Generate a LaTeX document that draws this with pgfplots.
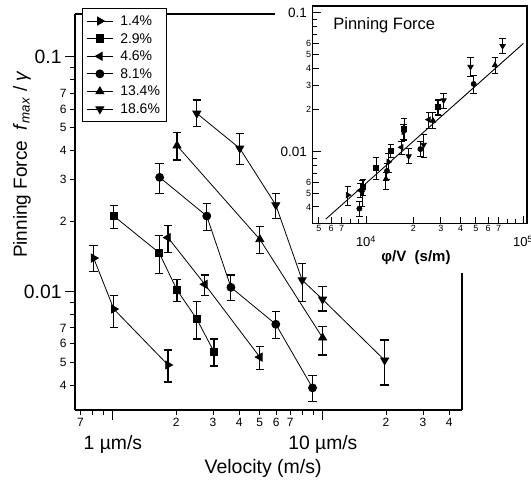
\documentclass[border=0pt]{standalone}
\usepackage{pgfplots}
\pgfplotsset{compat=1.18}
\usepackage{fontspec}
\setmainfont{Liberation Sans}
\newcommand{\fs}[1]{\fontsize{#1}{#1}\selectfont}
\pgfplotsset{
  ebar/.style={error bars/.cd, y dir=both, y explicit,
    error bar style={line width=1.1pt, black},
    error mark options={rotate=90, mark size=4.2pt, line width=1.1pt, black}},
  ebarsmall/.style={error bars/.cd, y dir=both, y explicit,
    error bar style={line width=1pt, black},
    error mark options={rotate=90, mark size=3.2pt, line width=1pt, black}},
}
\begin{document}
\begin{tikzpicture}
\useasboundingbox (0pt,0pt) rectangle (531pt,484pt);
% ---------------- main axis ----------------
\begin{axis}[
  at={(75pt,74pt)}, anchor=south west,
  scale only axis, width=387pt, height=396pt,
  xmode=log, ymode=log,
  xmin=0.66, xmax=46, ymin=0.00313, ymax=0.1525,
  axis x line*=bottom, axis y line*=left,
  axis line style={line width=1.4pt, black},
  clip=false,
  tick align=outside,
  major tick length=5pt, minor tick length=5pt,
  tick style={line width=1pt, black},
  xtick={0.7,2,3,4,5,6,7,20,30,40},
  xticklabels={7,2,3,4,5,6,7,2,3,4},
  minor xtick={0.8,0.9,8,9},
  extra x ticks={1,10},
  extra x tick labels={1 µm/s,10 µm/s},
  extra x tick style={major tick length=10pt,
     xticklabel style={font=\fs{19.3}, yshift=-12pt}},
  xticklabel style={font=\fs{12}},
  ytick={0.004,0.005,0.006,0.007,0.02,0.03,0.04,0.05,0.06,0.07},
  yticklabels={4,5,6,7,2,3,4,5,6,7},
  minor ytick={0.008,0.009,0.08,0.09},
  extra y ticks={0.01,0.1},
  extra y tick labels={0.01,0.1},
  extra y tick style={major tick length=10pt,
     yticklabel style={font=\fs{19.3}}},
  yticklabel style={font=\fs{12}},
  xlabel={Velocity (m/s)},
  xlabel style={at={(rel axis cs:0.486,0)}, anchor=center, yshift=-58pt, font=\fs{19.5}},
  ylabel={Pinning Force\ \ \textit{f}\textsubscript{\textit{max}} / \textit{γ}},
  ylabel style={at={([xshift=-53pt]rel axis cs:0,0.62)}, anchor=center, font=\fs{19}},
  legend style={at={(0.018,1.015)}, anchor=north west, draw=black, line width=1pt,
     fill=white, font=\fs{14}, row sep=3.6pt, column sep=4pt, inner xsep=4pt, inner ysep=5.5pt,
     nodes={inner ysep=1.5pt, inner xsep=3pt, text height=10pt, text depth=1pt}},
  legend cell align=left,
  legend image code/.code={\draw[mark repeat=2,mark phase=2,#1] plot coordinates {(0pt,0pt) (13pt,0pt) (26pt,0pt)};},
  every axis plot/.append style={black, line width=0.8pt},
]
\draw[line width=1.4pt] (rel axis cs:0,1) -- (rel axis cs:0.517,1);
\draw[line width=1.4pt] (rel axis cs:1,0) -- (rel axis cs:1,0.346);

% 1.4%
\addplot[mark=triangle*, mark size=4.6pt, mark options={rotate=-90, solid, fill=black}, ebar]
 coordinates {
 (0.81,0.0139) += (0,0.0018) -= (0,0.0017)
 (1.01,0.00843) += (0,0.00124) -= (0,0.00141)
 (1.83,0.00487) += (0,0.00077) -= (0,0.00075)
 };
\addlegendentry{1.4\%}
% 2.9%
\addplot[mark=square*, mark size=3.8pt, mark options={solid, fill=black}, ebar]
 coordinates {
 (1.01,0.0210) += (0,0.0022) -= (0,0.0024)
 (1.66,0.01465) += (0,0.00275) -= (0,0.00268)
 (2.02,0.01016) += (0,0.00112) -= (0,0.0011)
 (2.51,0.00764) += (0,0.00142) -= (0,0.00136)
 (3.03,0.00554) += (0,0.00074) -= (0,0.00072)
 };
\addlegendentry{2.9\%}
% 4.6%
\addplot[mark=triangle*, mark size=4.6pt, mark options={rotate=90, solid, fill=black}, ebar]
 coordinates {
 (1.83,0.0170) += (0,0.0021) -= (0,0.00235)
 (2.74,0.01074) += (0,0.00103) -= (0,0.00114)
 (5.01,0.00526) += (0,0.0006) -= (0,0.0006)
 };
\addlegendentry{4.6\%}
% 8.1%
\addplot[mark=*, mark size=4pt, mark options={solid, fill=black}, ebar]
 coordinates {
 (1.67,0.0307) += (0,0.0045) -= (0,0.0045)
 (2.80,0.0210) += (0,0.0028) -= (0,0.0027)
 (3.65,0.01043) += (0,0.00134) -= (0,0.00128)
 (5.97,0.00726) += (0,0.00095) -= (0,0.00094)
 (8.93,0.00389) += (0,0.00049) -= (0,0.00049)
 };
\addlegendentry{8.1\%}
% 13.4%
\addplot[mark=triangle*, mark size=4.6pt, mark options={solid, fill=black}, ebar]
 coordinates {
 (2.02,0.0419) += (0,0.0057) -= (0,0.0055)
 (5.01,0.0167) += (0,0.0023) -= (0,0.0021)
 (9.97,0.00636) += (0,0.00077) -= (0,0.00099)
 };
\addlegendentry{13.4\%}
% 18.6%
\addplot[mark=triangle*, mark size=4.6pt, mark options={rotate=180, solid, fill=black}, ebar]
 coordinates {
 (2.51,0.0575) += (0,0.0081) -= (0,0.0070)
 (4.02,0.0408) += (0,0.0065) -= (0,0.0059)
 (5.97,0.0234) += (0,0.0028) -= (0,0.0029)
 (7.97,0.0112) += (0,0.0020) -= (0,0.00214)
 (9.97,0.00927) += (0,0.00122) -= (0,0.0010)
 (19.7,0.0051) += (0,0.00112) -= (0,0.0011)
 };
\addlegendentry{18.6\%}
\end{axis}

% ---------------- inset ----------------
\begin{axis}[
  at={(312.7pt,260.7pt)}, anchor=south west,
  scale only axis, width=214.3pt, height=217.3pt,
  xmode=log, ymode=log,
  xmin=4575, xmax=106000, ymin=0.00305, ymax=0.1117,
  axis background/.style={fill=white},
  axis line style={line width=1.3pt, black},
  tick align=inside, tick pos=left,
  major tick length=6pt, minor tick length=4pt,
  tick style={line width=0.9pt, black},
  xtick={5000,6000,7000,20000,30000,40000,50000,60000,70000},
  xticklabels={5,6,7,2,3,4,5,6,7},
  minor xtick={8000,9000,80000,90000},
  extra x ticks={10000,100000},
  extra x tick labels={10\textsuperscript{4},10\textsuperscript{5}},
  extra x tick style={major tick length=7pt,
     xticklabel style={font=\fs{13}, yshift=-11pt}},
  xticklabel style={font=\fs{9}, inner sep=1.5pt},
  ytick={0.004,0.005,0.006,0.02,0.03,0.04,0.05,0.06},
  yticklabels={4,5,6,2,3,4,5,6},
  minor ytick={0.007,0.008,0.009,0.07,0.08,0.09},
  extra y ticks={0.01,0.1},
  extra y tick labels={0.01,0.1},
  extra y tick style={major tick length=8pt,
     yticklabel style={font=\fs{13.5}, xshift=-4pt}},
  yticklabel style={font=\fs{9}, inner sep=1.5pt},
  xlabel={φ/V\ \ (s/m)},
  xlabel style={at={(rel axis cs:0.482,0)}, anchor=center, yshift=-34.7pt, font=\bfseries\fs{15}},
  every axis plot/.append style={black, line width=0.8pt},
]
\node[anchor=base west, font=\fs{16.5}] at (rel axis cs:0.08,0.894) {Pinning Force};
\addplot[no marks, line width=0.9pt] coordinates {(5540,0.00327) (100500,0.0600)};
% 1.4%
\addplot[only marks, mark=triangle*, mark size=3pt, mark options={rotate=-90, fill=black}, ebarsmall]
 coordinates {
 (17300,0.0139) += (0,0.0018) -= (0,0.0017)
 (13900,0.00843) += (0,0.00124) -= (0,0.00141)
 (7650,0.00487) += (0,0.00077) -= (0,0.00075)
 };
% 2.9%
\addplot[only marks, mark=square*, mark size=2.4pt, mark options={fill=black}, ebarsmall]
 coordinates {
 (28700,0.0210) += (0,0.0022) -= (0,0.0024)
 (17500,0.01465) += (0,0.00275) -= (0,0.00268)
 (14400,0.01016) += (0,0.00112) -= (0,0.0011)
 (11600,0.00764) += (0,0.00142) -= (0,0.00136)
 (9570,0.00554) += (0,0.00074) -= (0,0.00072)
 };
% 4.6%
\addplot[only marks, mark=triangle*, mark size=3pt, mark options={rotate=90, fill=black}, ebarsmall]
 coordinates {
 (25100,0.0170) += (0,0.0021) -= (0,0.00235)
 (16800,0.01074) += (0,0.00103) -= (0,0.00114)
 (9180,0.00526) += (0,0.0006) -= (0,0.0006)
 };
% 8.1%
\addplot[only marks, mark=*, mark size=2.5pt, mark options={fill=black}, ebarsmall]
 coordinates {
 (48500,0.0307) += (0,0.0045) -= (0,0.0045)
 (28900,0.0210) += (0,0.0028) -= (0,0.0027)
 (22200,0.01043) += (0,0.00134) -= (0,0.00128)
 (13600,0.00726) += (0,0.00095) -= (0,0.00094)
 (9070,0.00389) += (0,0.00049) -= (0,0.00049)
 };
% 13.4%
\addplot[only marks, mark=triangle*, mark size=3pt, mark options={fill=black}, ebarsmall]
 coordinates {
 (66300,0.0419) += (0,0.0057) -= (0,0.0055)
 (26700,0.0167) += (0,0.0023) -= (0,0.0021)
 (13400,0.00636) += (0,0.00077) -= (0,0.00099)
 };
% 18.6%
\addplot[only marks, mark=triangle*, mark size=3pt, mark options={rotate=180, fill=black}, ebarsmall]
 coordinates {
 (74100,0.0575) += (0,0.0081) -= (0,0.0070)
 (46300,0.0408) += (0,0.0065) -= (0,0.0059)
 (31200,0.0234) += (0,0.0028) -= (0,0.0029)
 (23300,0.0112) += (0,0.0020) -= (0,0.00214)
 (18700,0.00927) += (0,0.00122) -= (0,0.0010)
 (9440,0.0051) += (0,0.00112) -= (0,0.0011)
 };
\end{axis}
\end{tikzpicture}
\end{document}
